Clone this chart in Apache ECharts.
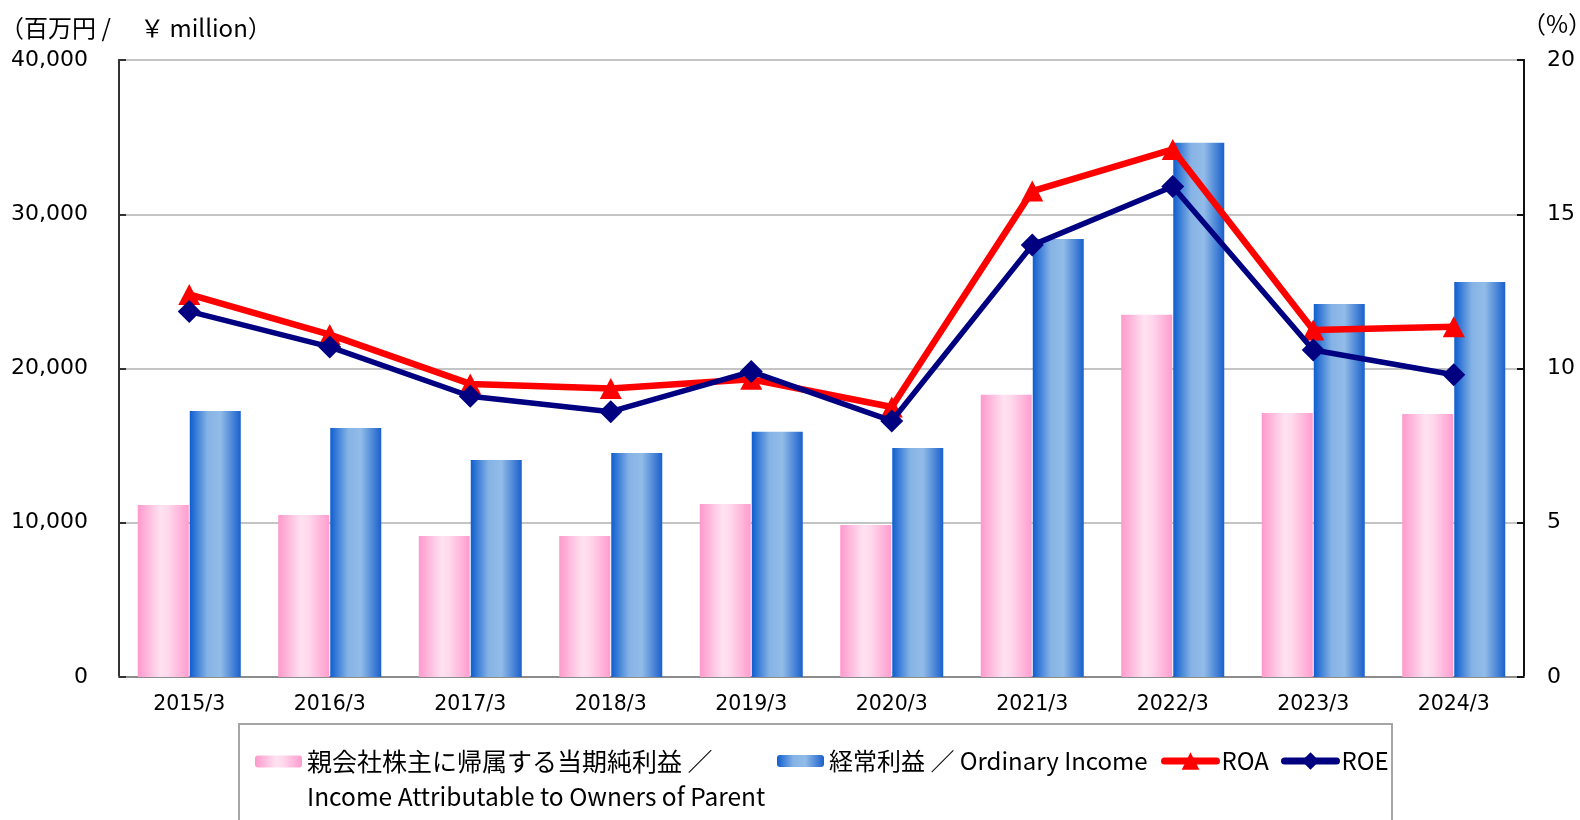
<!DOCTYPE html>
<html>
<head>
<meta charset="utf-8">
<script src="https://cdn.jsdelivr.net/npm/echarts@6/dist/echarts.min.js"></script>
<style>
  html, body { margin: 0; padding: 0; background: #fff; }
  #main { width: 1580px; height: 820px; }
</style>
</head>
<body>
<div id="main"></div>
<script>
// 年度 / 決算期
const categories = ['2015/3', '2016/3', '2017/3', '2018/3', '2019/3', '2020/3', '2021/3', '2022/3', '2023/3', '2024/3']
// 親会社株主に帰属する当期純利益 (百万円)
const netIncome = [11150, 10500, 9140, 9140, 11220, 9850, 18300, 23480, 17120, 17050]
// 経常利益 (百万円)
const ordinaryIncome = [17250, 16140, 14070, 14520, 15900, 14850, 28390, 34630, 24180, 25610]
// ROA / ROE (%)
const roa = [12.4, 11.1, 9.5, 9.35, 9.65, 8.75, 15.75, 17.1, 11.25, 11.35]
const roe = [11.85, 10.7, 9.1, 8.6, 9.9, 8.3, 14.0, 15.9, 10.6, 9.8]

const NAME_NET = '親会社株主に帰属する当期純利益 ／'
const NAME_ORD = '経常利益 ／ Ordinary Income'

const pinkGrad = new echarts.graphic.LinearGradient(0, 0, 1, 0, [
  { offset: 0, color: '#ff99cc' },
  { offset: 0.45, color: '#ffe2f1' },
  { offset: 0.6, color: '#ffd8ec' },
  { offset: 1, color: '#ff9ccf' }
])
const blueGrad = new echarts.graphic.LinearGradient(0, 0, 1, 0, [
  { offset: 0, color: '#0e5ecf' },
  { offset: 0.35, color: '#86b3e5' },
  { offset: 0.6, color: '#92bce8' },
  { offset: 1, color: '#1a60cc' }
])

const legendText = { fontFamily: 'Noto Sans CJK JP', fontSize: 24, color: '#000' }

const myChart = echarts.init(document.getElementById('main'))
const option = {
  animation: false,
  backgroundColor: '#fff',
  legend: [
    {
      data: [NAME_NET], left: 255, top: 749, padding: 0, itemWidth: 47, itemHeight: 12,
      textStyle: Object.assign({}, legendText, { fontSize: 25 })
    },
    { data: [NAME_ORD], left: 777, top: 749, padding: 0, itemWidth: 47, itemHeight: 12, textStyle: legendText },
    {
      data: ['ROA'], left: 1161, top: 749, padding: 0, itemWidth: 52, itemHeight: 22,
      lineStyle: { width: 7, cap: 'round' }, textStyle: legendText
    },
    {
      data: ['ROE'], left: 1281, top: 749, padding: 0, itemWidth: 52, itemHeight: 22,
      lineStyle: { width: 7, cap: 'round' }, textStyle: legendText
    }
  ],
  graphic: [
    {
      type: 'rect',
      shape: { x: 239, y: 724, width: 1153, height: 120 },
      style: { fill: 'none', stroke: '#a6a6a6', lineWidth: 2 },
      z: -1
    },
    {
      type: 'text',
      x: 307,
      y: 797,
      style: {
        text: 'Income Attributable to Owners of Parent',
        fontFamily: 'Noto Sans CJK JP',
        fontSize: 24.5,
        fill: '#000',
        verticalAlign: 'middle'
      }
    },
    {
      type: 'text',
      x: 0,
      y: 28,
      style: {
        text: '（百万円 /　 ￥ million）',
        fontFamily: 'Noto Sans CJK JP',
        fontSize: 24,
        fill: '#000',
        verticalAlign: 'middle'
      }
    },
    {
      type: 'text',
      x: 1522,
      y: 24,
      style: {
        text: '（%）',
        fontFamily: 'Noto Sans CJK JP',
        fontSize: 24,
        fill: '#000',
        verticalAlign: 'middle'
      }
    }
  ],
  grid: {
    left: 119,
    right: 56,
    top: 60,
    bottom: 143,
    show: true,
    borderWidth: 2,
    borderColor: '#8a8a8a',
    backgroundColor: 'transparent'
  },
  xAxis: {
    type: 'category',
    data: categories,
    axisLine: { lineStyle: { color: '#8c8c8c', width: 2 } },
    axisTick: { show: false },
    axisLabel: { fontFamily: 'DejaVu Sans', fontSize: 20.5, color: '#000', margin: 17 }
  },
  yAxis: [
    {
      type: 'value',
      min: 0,
      max: 40000,
      interval: 10000,
      axisLine: { show: true, lineStyle: { color: '#333', width: 2 } },
      axisTick: { show: true, inside: true, length: 7, lineStyle: { color: '#333', width: 2 } },
      axisLabel: {
        fontFamily: 'DejaVu Sans',
        fontSize: 22,
        color: '#000',
        margin: 31,
        formatter: (v) => v.toLocaleString('en-US')
      },
      splitLine: { lineStyle: { color: '#c4c4c4', width: 2 } }
    },
    {
      type: 'value',
      min: 0,
      max: 20,
      interval: 5,
      position: 'right',
      axisLine: { show: true, lineStyle: { color: '#111', width: 2 } },
      axisTick: { show: true, inside: true, length: 7, lineStyle: { color: '#111', width: 2 } },
      axisLabel: { fontFamily: 'DejaVu Sans', fontSize: 22, color: '#000', margin: 23 },
      splitLine: { show: false }
    }
  ],
  series: [
    {
      name: NAME_NET,
      type: 'bar',
      data: netIncome,
      barWidth: 51,
      barGap: '2%',
      itemStyle: { color: pinkGrad }
    },
    {
      name: NAME_ORD,
      type: 'bar',
      data: ordinaryIncome,
      barWidth: 51,
      barGap: '2%',
      itemStyle: { color: blueGrad }
    },
    {
      name: 'ROA',
      type: 'line',
      yAxisIndex: 1,
      data: roa,
      symbol: 'triangle',
      symbolSize: [22, 21],
      lineStyle: { color: '#ff0000', width: 6.5 },
      itemStyle: { color: '#ff0000' },
      z: 3
    },
    {
      name: 'ROE',
      type: 'line',
      yAxisIndex: 1,
      data: roe,
      symbol: 'diamond',
      symbolSize: [23, 23],
      lineStyle: { color: '#000080', width: 5.5 },
      itemStyle: { color: '#000080' },
      z: 4
    }
  ]
}
option && myChart.setOption(option)
</script>
</body>
</html>
